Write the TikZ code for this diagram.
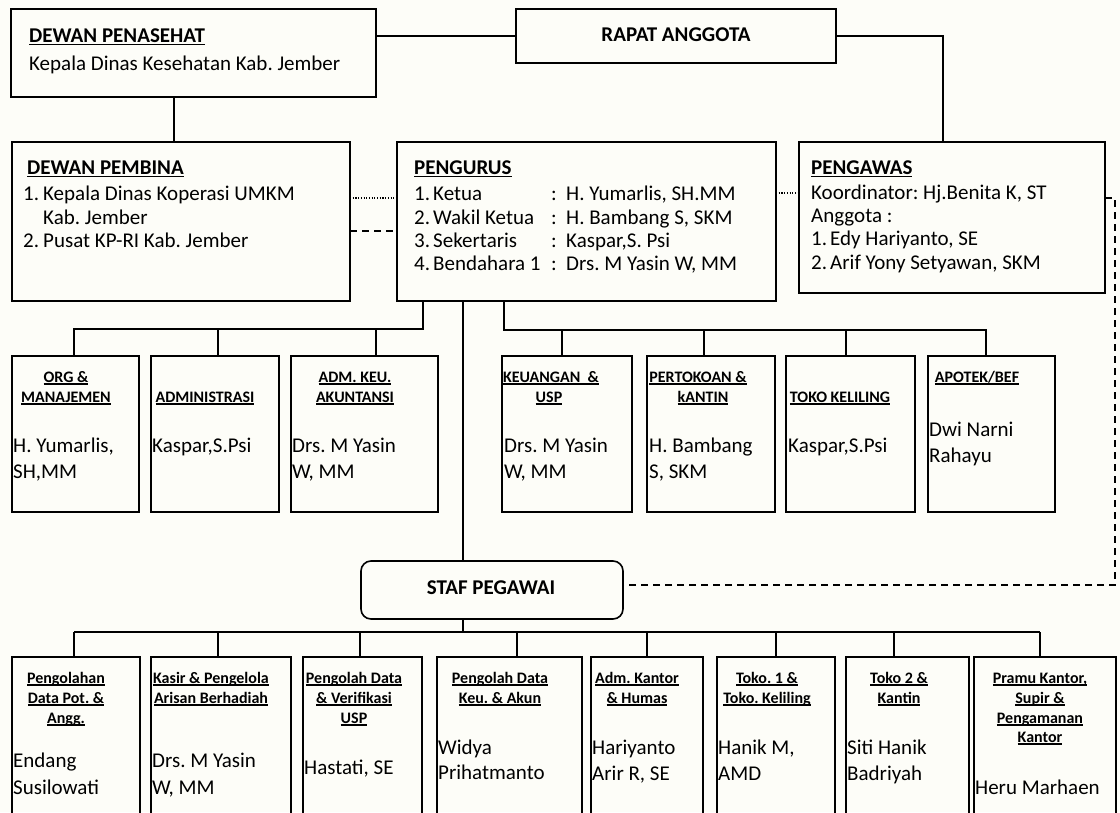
\documentclass[tikz,border=0pt]{standalone}
\usepackage{fontspec}
\setmainfont{Carlito}
\usetikzlibrary{calc}
\frenchspacing
\definecolor{bgc}{RGB}{253,253,248}
\newcommand\ulx[1]{\setbox0\hbox{#1}\rlap{\rule[-0.16em]{\wd0}{0.075em}}\box0}
\newcommand\mkbox[6][]{\node[bx,#1,minimum width={#5-#3},minimum height={#6-#4}] (#2) at (#3,#4) {};}
\newcommand\Ht[4]{\node[hdt] (#1) at (#2,#3) {\ulx{#4}};}
\newcommand\Nt[4]{\node[bodyt] (#1) at (#2,#3) {#4};}
\tikzset{
  bx/.style={draw, line width=1.6pt, inner sep=0pt, outer sep=0pt, anchor=north west},
  cn/.style={line width=1.5pt},
  dsh/.style={line width=1.4pt, dash pattern=on 7pt off 5pt},
  dtt/.style={line width=1.1pt, dash pattern=on 1.1pt off 1.6pt},
  bodyt/.style={inner sep=0pt, anchor=base west, font=\fontsize{21}{25}\selectfont},
  bodyb/.style={bodyt, font=\fontsize{21}{25}\selectfont\bfseries},
  hdt/.style={inner sep=0pt, anchor=base, font=\fontsize{16}{20}\selectfont\bfseries},
}
\begin{document}
\begin{tikzpicture}[x=1pt,y=-1pt]
\useasboundingbox (0,0) rectangle (1120,812);
\clip (0,0) rectangle (1120,812);
\fill[bgc] (0,0) rectangle (1120,812);

% ---------- boxes ----------
\mkbox{dp}{11}{9}{376}{97}
\mkbox{rapat}{516}{9}{836}{63}
\mkbox{dpb}{12}{142}{350}{301}
\mkbox{pengurus}{397}{142}{776}{301}
\mkbox{pengawas}{799}{142}{1105}{293}
\mkbox{ma}{12}{356}{139}{512}
\mkbox{mb}{151}{356}{279}{512}
\mkbox{mc}{291}{356}{438}{512}
\mkbox{md}{502}{356}{632}{512}
\mkbox{me}{647}{356}{775}{512}
\mkbox{mf}{786}{356}{915}{512}
\mkbox{mg}{928}{356}{1055}{512}
\mkbox[rounded corners=10pt]{staf}{361}{561}{623}{619}
\mkbox{la}{12}{657}{140}{840}
\mkbox{lb}{151}{657}{291}{840}
\mkbox{lc}{303}{657}{422}{840}
\mkbox{ld}{437}{657}{582}{840}
\mkbox{le}{591}{657}{703}{840}
\mkbox{lf}{717}{657}{835}{840}
\mkbox{lg}{846}{657}{969}{840}
\mkbox{lh}{974}{657}{1116}{840}

% ---------- connectors ----------
\draw[cn] (dp.east |- rapat.west) -- (rapat.west);
\coordinate (rk) at (943,0);
\draw[cn] (rapat.east) -- (rk |- rapat.east) -- (rk |- pengawas.north);
\coordinate (dk) at (174,0);
\draw[cn] (dk |- dp.south) -- (dk |- dpb.north);
\draw[dtt] (dpb.east |- 0,198) -- (pengurus.west |- 0,198);
\draw[dsh] (dpb.east |- 0,231) -- (pengurus.west |- 0,231);
\draw[dtt] (pengurus.east |- 0,193) -- (pengawas.west |- 0,193);
\coordinate (c1) at (1115,198);
\coordinate (c2) at (1115,585);
\draw[dsh] (pengawas.east |- c1) -- (c1) -- (c2) -- (staf.east |- c2);

% left branch
\draw[cn] (423,0 |- pengurus.south) -- (423,329) -- (74,329) -- (74,0 |- ma.north);
\draw[cn] (218,329) -- (218,0 |- mb.north);
\draw[cn] (376,329) -- (376,0 |- mc.north);
% right branch
\draw[cn] (504,0 |- pengurus.south) -- (504,330) -- (986,330) -- (986,0 |- mg.north);
\draw[cn] (562,330) -- (562,0 |- md.north);
\draw[cn] (704,330) -- (704,0 |- me.north);
\draw[cn] (846,330) -- (846,0 |- mf.north);
% main line
\coordinate (mx) at (463,0);
\draw[cn] (mx |- pengurus.south) -- (mx |- staf.north);
\draw[cn] (mx |- staf.south) -- (463,632);
% lower branch
\draw[cn] (74,632) -- (1040,632);
\foreach \xx/\bb in {74/la,218/lb,360/lc,517/ld,647/le,776/lf,894/lg,1040/lh}
  \draw[cn] (\xx,632) -- (\xx,0 |- \bb.north);

% ---------- texts: top ----------
\node[bodyb] (t1) at (29,42) {\ulx{DEWAN PENASEHAT}};
\Nt{t2}{29}{70}{Kepala Dinas Kesehatan Kab. Jember}
\node[bodyb, anchor=base] (t3) at (676,41) {RAPAT ANGGOTA};

\node[bodyb] (t4) at (27,174) {\ulx{DEWAN PEMBINA}};
\Nt{t5}{23}{200}{1.}
\Nt{t6}{43}{200}{Kepala Dinas Koperasi UMKM}
\Nt{t7}{43}{224}{Kab. Jember}
\Nt{t8}{23}{247}{2.}
\Nt{t9}{43}{247}{Pusat KP-RI Kab. Jember}

\node[bodyb] (p0) at (414,174) {\ulx{PENGURUS}};
\Nt{p1}{414}{200}{\makebox[19pt][l]{1.}\makebox[118pt][l]{Ketua}\makebox[15pt][l]{:}H. Yumarlis, SH.MM}
\Nt{p2}{414}{224}{\makebox[19pt][l]{2.}\makebox[118pt][l]{Wakil Ketua}\makebox[15pt][l]{:}H. Bambang S, SKM}
\Nt{p3}{414}{247}{\makebox[19pt][l]{3.}\makebox[118pt][l]{Sekertaris}\makebox[15pt][l]{:}Kaspar,S. Psi}
\Nt{p4}{414}{270}{\makebox[19pt][l]{4.}\makebox[118pt][l]{Bendahara 1}\makebox[15pt][l]{:}Drs. M Yasin W, MM}

\node[bodyb] (w0) at (811,174) {\ulx{PENGAWAS}};
\Nt{w1}{811}{199}{Koordinator: Hj.Benita K, ST}
\Nt{w2}{811}{222}{Anggota :}
\Nt{w3}{811}{245}{1.}
\Nt{w4}{830}{245}{Edy Hariyanto, SE}
\Nt{w5}{811}{269}{2.}
\Nt{w6}{830}{269}{Arif Yony Setyawan, SKM}

% ---------- middle row ----------
\Ht{ha1}{66}{382}{ORG \&}
\Ht{ha2}{66}{402}{MANAJEMEN}
\Nt{na1}{13}{452}{H. Yumarlis,}
\Nt{na2}{13}{478}{SH,MM}

\Ht{hb1}{205}{402}{ADMINISTRASI}
\Nt{nb1}{152}{452}{Kaspar,S.Psi}

\Ht{hc1}{355}{382}{ADM. KEU.}
\Ht{hc2}{355}{402}{AKUNTANSI}
\Nt{nc1}{292}{452}{Drs. M Yasin}
\Nt{nc2}{292}{478}{W, MM}

\Ht{hd1}{551}{382}{KEUANGAN~~\&}
\Ht{hd2}{549}{402}{USP}
\Nt{nd1}{504}{452}{Drs. M Yasin}
\Nt{nd2}{504}{478}{W, MM}

\Ht{he1}{698}{382}{PERTOKOAN \&}
\Ht{he2}{703}{402}{kANTIN}
\Nt{ne1}{649}{452}{H. Bambang}
\Nt{ne2}{649}{478}{S, SKM}

\Ht{hf1}{840}{402}{TOKO KELILING}
\Nt{nf1}{788}{452}{Kaspar,S.Psi}

\Ht{hg1}{977}{382}{APOTEK/BEF}
\Nt{ng1}{929}{436}{Dwi Narni}
\Nt{ng2}{929}{462}{Rahayu}

% ---------- staf ----------
\node[bodyb, anchor=base] (st) at (491,594) {STAF PEGAWAI};

% ---------- lower row ----------
\Ht{la1}{66}{683}{Pengolahan}
\Ht{la2}{66}{703}{Data Pot. \&}
\Ht{la3}{66}{723}{Angg.}
\Nt{lna1}{13}{767}{Endang}
\Nt{lna2}{13}{794}{Susilowati}

\Ht{lb1}{211}{683}{Kasir \& Pengelola}
\Ht{lb2}{211}{703}{Arisan Berhadiah}
\Nt{lnb1}{152}{767}{Drs. M Yasin}
\Nt{lnb2}{152}{794}{W, MM}

\Ht{lc1}{354}{683}{Pengolah Data}
\Ht{lc2}{354}{703}{\& Verifikasi}
\Ht{lc3}{354}{723}{USP}
\Nt{lnc1}{304}{774}{Hastati, SE}

\Ht{ld1}{500}{683}{Pengolah Data}
\Ht{ld2}{500}{703}{Keu. \& Akun}
\Nt{lnd1}{438}{754}{Widya}
\Nt{lnd2}{438}{779}{Prihatmanto}

\Ht{le1}{637}{683}{Adm. Kantor}
\Ht{le2}{637}{703}{\& Humas}
\Nt{lne1}{592}{754}{Hariyanto}
\Nt{lne2}{592}{780}{Arir R, SE}

\Ht{lf1}{767}{683}{Toko. 1 \&}
\Ht{lf2}{767}{703}{Toko. Keliling}
\Nt{lnf1}{718}{754}{Hanik M,}
\Nt{lnf2}{718}{780}{AMD}

\Ht{lg1}{899}{683}{Toko 2 \&}
\Ht{lg2}{899}{703}{Kantin}
\Nt{lng1}{847}{754}{Siti Hanik}
\Nt{lng2}{847}{780}{Badriyah}

\Ht{lh1}{1040}{683}{Pramu Kantor,}
\Ht{lh2}{1040}{703}{Supir \&}
\Ht{lh3}{1040}{723}{Pengamanan}
\Ht{lh4}{1040}{742}{Kantor}
\Nt{lnh1}{975}{794}{Heru Marhaen}
\end{tikzpicture}
\end{document}
